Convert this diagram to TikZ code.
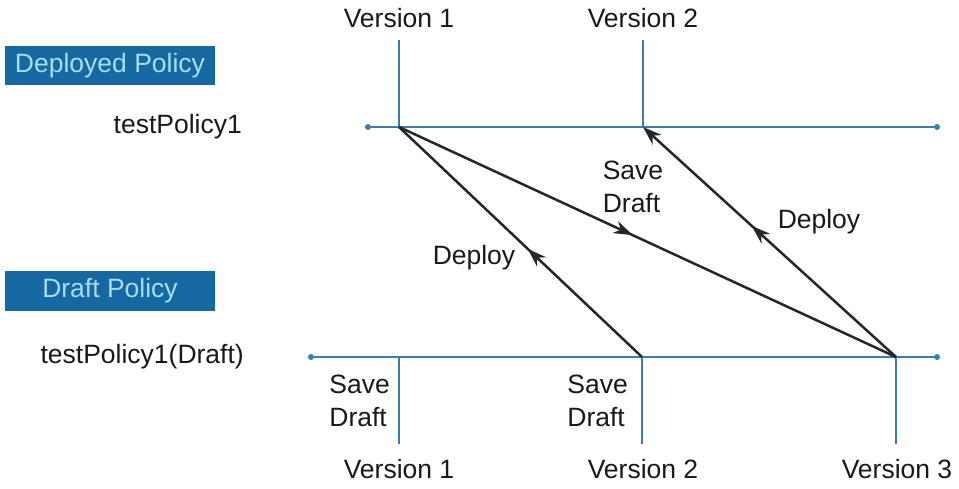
\documentclass[tikz,border=0pt]{standalone}
\usepackage{fontspec}
\setmainfont{Liberation Sans}
\usetikzlibrary{arrows.meta,decorations.markings}
\definecolor{boxblue}{HTML}{1569A0}
\definecolor{boxtext}{HTML}{A8DCF5}
\definecolor{lineblue}{HTML}{3B7DAF}
\tikzset{
  lbl/.style={inner sep=0pt, font=\fontsize{26.5}{33}\selectfont, text=black!90},
  pbox/.style={fill=boxblue, text=boxtext, minimum width=210pt, minimum height=39pt, inner sep=0pt, font=\fontsize{26.5}{30}\selectfont},
  tline/.style={draw=lineblue, line width=2pt},
  tdot/.style={fill=lineblue, circle, inner sep=0pt, minimum size=6pt},
  flow/.style={draw=black!85, line width=2.5pt},
  midarr/.style={postaction={decorate}, decoration={markings, mark=at position #1 with {\arrow{Stealth[length=19pt,width=13pt]}}}},
}
\begin{document}
\begin{tikzpicture}[x=1pt,y=-1pt]
\useasboundingbox (0,0) rectangle (959,489);
% boxes and labels
\node[pbox] (dep) at (110,66) {Deployed Policy};
\node[pbox] (dra) at (110,291) {Draft Policy};
\node[lbl, anchor=east] (tp) at (242,127) {testPolicy1};
\node[lbl, anchor=east] (tpd) at (244,357) {testPolicy1(Draft)};
% top timeline
\node[tdot] (ts) at (368,127) {};
\node[tdot] (te) at (937,127) {};
\coordinate (tv1) at (399,127);
\coordinate (tv2) at (643,127);
\coordinate (tv1t) at (399,40);
\coordinate (tv2t) at (643,40);
\draw[tline] (ts) -- (te);
\draw[tline] (tv1t) -- (tv1);
\draw[tline] (tv2t) -- (tv2);
\node[lbl] (v1t) at (399,18) {Version 1};
\node[lbl] (v2t) at (643,18) {Version 2};
% bottom timeline
\node[tdot] (bs) at (311,357) {};
\node[tdot] (be) at (937,357) {};
\coordinate (bv1) at (399,357);
\coordinate (bv2) at (642,357);
\coordinate (bv3) at (896,357);
\coordinate (bv1b) at (399,444);
\coordinate (bv2b) at (642,444);
\coordinate (bv3b) at (896,444);
\draw[tline] (bs) -- (be);
\draw[tline] (bv1) -- (bv1b);
\draw[tline] (bv2) -- (bv2b);
\draw[tline] (bv3) -- (bv3b);
\node[lbl] (v1b) at (399,469) {Version 1};
\node[lbl] (v2b) at (643,469) {Version 2};
\node[lbl] (v3b) at (897,469) {Version 3};
\node[lbl, anchor=east, align=left] (sd1) at (390,401) {Save\\Draft};
\node[lbl, anchor=east, align=left] (sd2) at (628,401) {Save\\Draft};
% flows
\draw[flow, midarr=0.47] (bv2) -- (tv1);
\draw[flow, midarr=0.47] (tv1) -- (bv3);
\draw[flow, midarr=0.57, -{Stealth[length=19pt,width=13pt]}] (bv3) -- (tv2);
\node[lbl] (dl1) at (474,258) {Deploy};
\node[lbl, align=left] (sdm) at (633,187) {Save\\Draft};
\node[lbl] (dl2) at (819,222) {Deploy};
\end{tikzpicture}
\end{document}
